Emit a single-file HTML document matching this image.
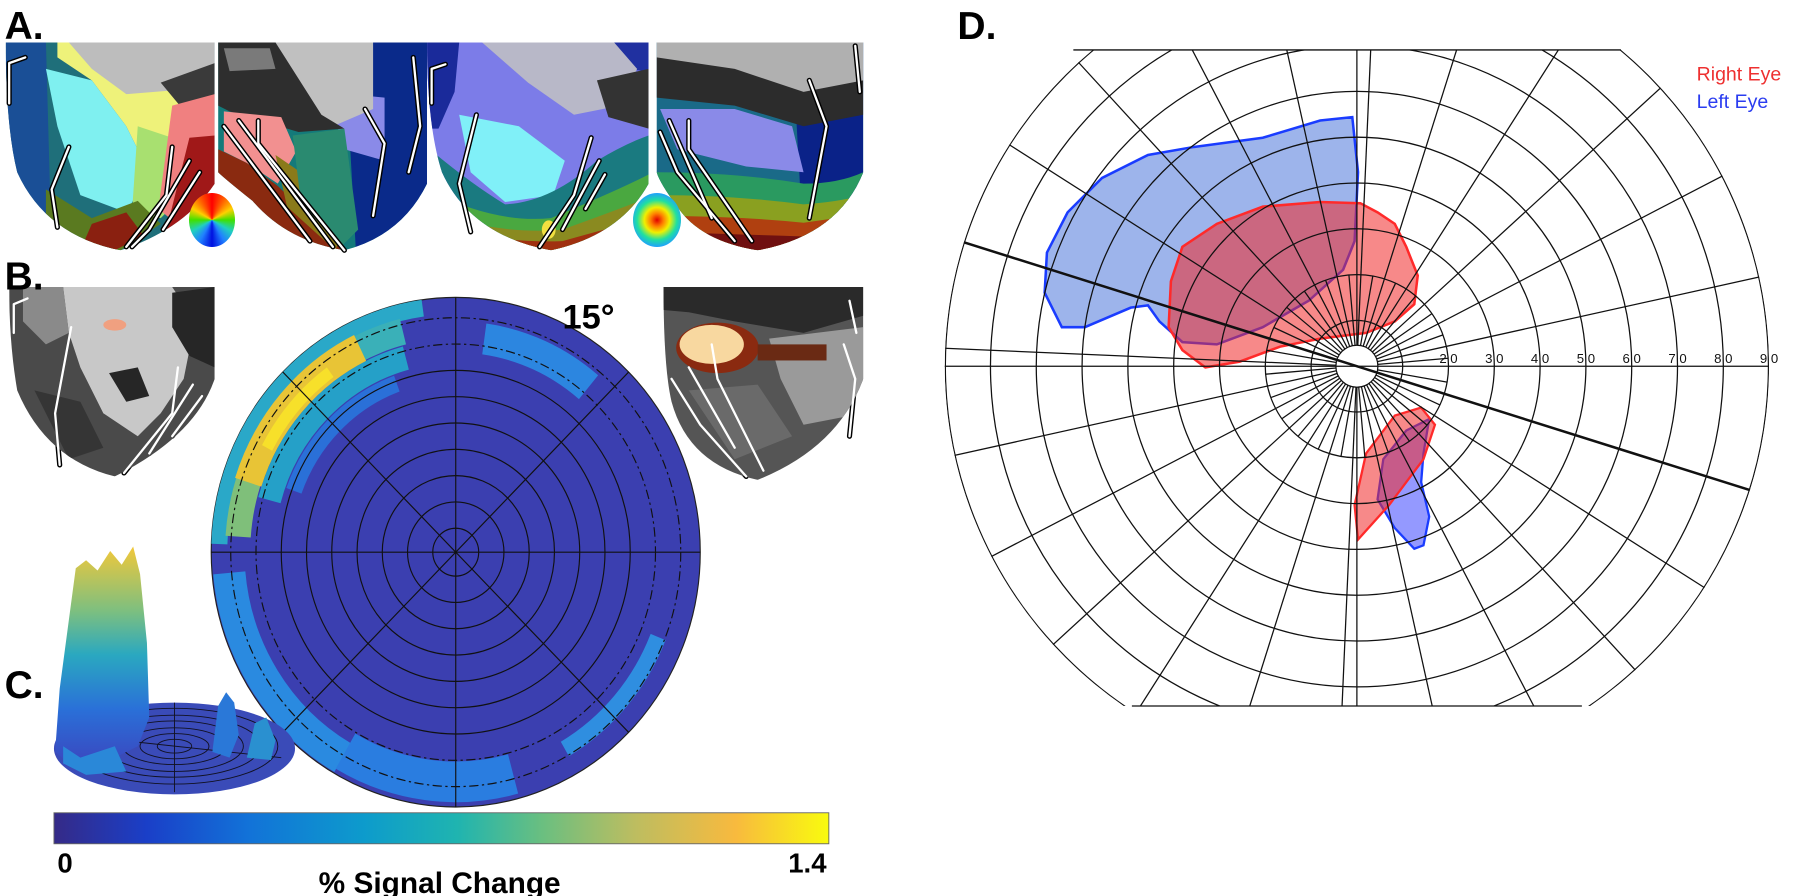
<!DOCTYPE html>
<html><head><meta charset="utf-8"><style>
html,body{margin:0;padding:0;background:#fff;}
#wrap{position:relative;width:1800px;height:896px;overflow:hidden;}
svg{position:absolute;left:0;top:0;}
.wheel{position:absolute;border-radius:50%;}
</style></head><body><div id="wrap">
<svg width="1800" height="896" viewBox="0 0 1568 780.5" preserveAspectRatio="none" font-family="Liberation Sans, sans-serif">
<defs>
<clipPath id="a1"><path d="M5,37 H187 V160 Q160,200 105,218 Q40,205 15,150 Q5,110 5,37 Z"/></clipPath>
<clipPath id="a2"><path d="M190,37 H372 V160 Q350,205 300,218 Q250,210 220,175 Q195,155 190,150 Z"/></clipPath>
<clipPath id="a3"><path d="M372,37 H565 V160 Q540,205 480,218 Q410,205 385,150 Q372,110 372,37 Z"/></clipPath>
<clipPath id="a4"><path d="M572,37 H752 V150 Q730,205 660,218 Q610,210 590,180 Q575,160 572,150 Z"/></clipPath>
<clipPath id="b1"><path d="M8,250 H187 V330 Q170,380 100,415 Q40,400 15,340 Q8,300 8,250 Z"/></clipPath>
<clipPath id="b2"><path d="M578,250 H752 V330 Q730,390 660,418 Q600,405 585,350 Q578,320 578,250 Z"/></clipPath>
<clipPath id="dclip"><rect x="800" y="43.5" width="800" height="571.5"/></clipPath>
<clipPath id="dcirc"><circle cx="1182" cy="319" r="359"/></clipPath>
<linearGradient id="cbar" x1="0" x2="1" y1="0" y2="0">
<stop offset="0" stop-color="#352a87"/><stop offset="0.12" stop-color="#1a3fc8"/><stop offset="0.25" stop-color="#1272d8"/>
<stop offset="0.4" stop-color="#0d9bcc"/><stop offset="0.52" stop-color="#1fb4b0"/><stop offset="0.63" stop-color="#6abf80"/>
<stop offset="0.75" stop-color="#bdbd60"/><stop offset="0.88" stop-color="#f8ba3e"/><stop offset="1" stop-color="#f9fb0e"/>
</linearGradient>
<linearGradient id="mtn" x1="0" x2="0" y1="0" y2="1">
<stop offset="0" stop-color="#f2c83a"/><stop offset="0.3" stop-color="#7cbf80"/><stop offset="0.5" stop-color="#2aa8c0"/>
<stop offset="0.75" stop-color="#2a70d8"/><stop offset="1" stop-color="#3a48c0"/>
</linearGradient>
</defs>

<!-- A1 -->
<g clip-path="url(#a1)">
<rect x="0" y="30" width="200" height="200" fill="#1f6f7a"/>
<polygon points="5,37 40,37 45,218 5,218" fill="#1a4f96"/>
<polygon points="50,37 170,37 175,110 155,140 150,180 120,185 130,150 110,110 80,70 50,50" fill="#eef27a"/>
<polygon points="40,60 80,70 110,110 130,150 110,185 70,170 50,110" fill="#7ff0f0"/>
<polygon points="120,110 150,120 160,170 140,190 115,185" fill="#a8e070"/>
<polygon points="60,37 187,37 187,60 160,78 110,82 80,60" fill="#bdbdbd"/>
<polygon points="140,72 187,55 187,102 160,96" fill="#3a3a3a"/>
<polygon points="150,92 187,82 187,160 160,200 138,182" fill="#f08080"/>
<polygon points="165,120 187,118 187,170 150,212 145,200" fill="#a01818"/>
<polygon points="40,165 80,190 120,175 140,195 105,218 40,218" fill="#5a7a20"/>
<polygon points="80,195 110,185 125,205 100,218 70,218" fill="#8a2010"/>
</g>
<!-- A2 -->
<g clip-path="url(#a2)">
<rect x="185" y="30" width="200" height="200" fill="#147a7a"/>
<polygon points="300,37 372,37 372,218 310,218" fill="#0a2a8a"/>
<polygon points="285,80 335,85 335,140 300,130" fill="#8a8ae8"/>
<polygon points="240,37 325,37 325,95 290,110 260,90" fill="#c0c0c0"/>
<polygon points="190,37 240,37 280,100 300,112 260,115 200,97 190,92" fill="#2e2e2e"/>
<polygon points="195,42 235,42 240,60 200,62" fill="#7a7a7a"/>
<polygon points="195,97 245,102 258,132 242,160 215,142 195,132" fill="#f29090"/>
<polygon points="190,130 215,142 242,162 300,218 250,218 200,172 190,162" fill="#8a2a10"/>
<polygon points="240,135 262,150 300,200 292,218 250,180" fill="#8a7a1a"/>
<polygon points="255,118 300,112 312,200 296,216 262,175" fill="#2a8a70"/>
</g>
<!-- A3 -->
<g clip-path="url(#a3)">
<rect x="365" y="30" width="210" height="200" fill="#7c7ce8"/>
<polygon points="372,37 400,37 396,80 382,112 372,112" fill="#1a2a9a"/>
<polygon points="530,37 565,37 565,62 540,60" fill="#2030a0"/>
<polygon points="420,37 535,37 555,60 540,92 500,100 460,72" fill="#b8b8c8"/>
<polygon points="520,70 565,60 565,112 530,102" fill="#333"/>
<polygon points="400,100 452,110 492,140 482,170 440,176 410,150" fill="#80f0f8"/>
<path d="M372,128 Q410,160 440,178 Q480,176 520,140 Q545,125 565,118 V218 H372 Z" fill="#1a7a80"/>
<path d="M372,165 Q430,195 480,190 Q540,165 565,152 V218 H372 Z" fill="#4aa840"/>
<path d="M372,185 Q440,205 490,200 Q540,182 565,172 V218 H372 Z" fill="#8a8a20"/>
<path d="M372,198 Q440,212 490,210 Q540,196 565,190 V218 H372 Z" fill="#a03010"/>
<ellipse cx="478" cy="200" rx="6" ry="8" fill="#f2e040"/>
</g>
<!-- A4 -->
<g clip-path="url(#a4)">
<rect x="565" y="30" width="195" height="200" fill="#1a6a88"/>
<polygon points="690,37 752,37 752,218 700,218" fill="#0a2288"/>
<polygon points="572,37 752,37 752,75 700,95 640,85 600,70 572,70" fill="#b0b0b0"/>
<polygon points="572,50 640,60 700,80 752,70 752,100 700,110 640,92 572,85" fill="#2c2c2c"/>
<polygon points="575,95 640,95 690,110 700,150 650,145 590,130" fill="#8a8ae8"/>
<path d="M572,150 Q640,150 700,160 Q730,160 752,150 V218 H572 Z" fill="#2a9a60"/>
<path d="M572,170 Q640,170 700,178 Q730,176 752,170 V218 H572 Z" fill="#8aa020"/>
<path d="M572,188 Q640,188 700,194 Q730,190 752,186 V218 H572 Z" fill="#b04010"/>
<path d="M572,202 Q640,204 700,206 Q730,204 752,200 V218 H572 Z" fill="#701010"/>
</g>
<!-- white sulcal lines -->
<g fill="none" stroke-linejoin="round" stroke-linecap="round">
<g stroke="#000" stroke-width="4.5">
<polyline points="8,90 8,55 22,50"/><polyline points="60,128 45,165 50,198"/><polyline points="150,128 145,170 110,215"/><polyline points="165,140 130,200 115,215"/><polyline points="174,150 142,200"/>
<polyline points="195,110 270,210"/><polyline points="208,105 290,215"/><polyline points="225,105 225,125 300,218"/><polyline points="318,95 335,125 325,188"/><polyline points="360,50 366,110 356,150"/>
<polyline points="376,90 376,60 388,56"/><polyline points="415,100 400,160 410,202"/><polyline points="515,120 500,170 470,215"/><polyline points="522,140 490,200"/><polyline points="527,152 510,182"/>
<polyline points="575,115 590,150 640,210"/><polyline points="583,105 620,190"/><polyline points="600,105 600,130 655,210"/><polyline points="705,70 720,110 705,190"/><polyline points="745,40 749,80"/>
<polyline points="12,290 12,265 24,260"/><polyline points="62,285 48,360 52,405"/><polyline points="155,320 150,360 108,412"/><polyline points="168,335 130,395"/><polyline points="176,345 150,380"/>
<polyline points="585,330 610,370 650,415"/><polyline points="600,320 640,390"/><polyline points="620,300 625,330 665,410"/><polyline points="740,262 746,290"/><polyline points="735,300 745,330 740,380"/>
</g>
<g stroke="#fff" stroke-width="2">
<polyline points="8,90 8,55 22,50"/><polyline points="60,128 45,165 50,198"/><polyline points="150,128 145,170 110,215"/><polyline points="165,140 130,200 115,215"/><polyline points="174,150 142,200"/>
<polyline points="195,110 270,210"/><polyline points="208,105 290,215"/><polyline points="225,105 225,125 300,218"/><polyline points="318,95 335,125 325,188"/><polyline points="360,50 366,110 356,150"/>
<polyline points="376,90 376,60 388,56"/><polyline points="415,100 400,160 410,202"/><polyline points="515,120 500,170 470,215"/><polyline points="522,140 490,200"/><polyline points="527,152 510,182"/>
<polyline points="575,115 590,150 640,210"/><polyline points="583,105 620,190"/><polyline points="600,105 600,130 655,210"/><polyline points="705,70 720,110 705,190"/><polyline points="745,40 749,80"/>
</g>
</g>

<!-- B1 -->
<g clip-path="url(#b1)">
<rect x="0" y="245" width="200" height="180" fill="#4a4a4a"/>
<polygon points="55,250 150,250 170,280 160,330 140,360 120,380 90,360 70,320 60,290" fill="#c8c8c8"/>
<polygon points="20,250 55,250 60,290 40,300 20,280" fill="#8a8a8a"/>
<polygon points="150,255 187,250 187,320 165,310 150,285" fill="#262626"/>
<polygon points="95,325 120,320 130,345 110,350" fill="#262626"/>
<polygon points="30,340 70,350 90,390 60,400" fill="#353535"/>
<ellipse cx="100" cy="283" rx="10" ry="5" fill="#f0a080"/>
</g>
<g fill="none" stroke-linejoin="round" stroke-linecap="round">
<g stroke="#fff" stroke-width="2"><polyline points="12,290 12,265 24,260"/><polyline points="62,285 48,360 52,405"/><polyline points="155,320 150,360 108,412"/><polyline points="168,335 130,395"/><polyline points="176,345 150,380"/></g>
</g>
<!-- B2 -->
<g clip-path="url(#b2)">
<rect x="570" y="245" width="190" height="180" fill="#555"/>
<polygon points="578,250 752,250 752,275 700,290 640,280 600,272 578,270" fill="#2a2a2a"/>
<polygon points="670,295 752,285 752,360 700,370 680,330" fill="#9a9a9a"/>
<polygon points="600,340 660,335 690,380 640,400" fill="#6a6a6a"/>
<ellipse cx="625" cy="303" rx="36" ry="22" fill="#8a2a10"/>
<ellipse cx="620" cy="300" rx="28" ry="17" fill="#f8d8a0"/>
<rect x="660" y="300" width="60" height="14" fill="#6a2a14"/>
</g>
<g fill="none" stroke-linejoin="round" stroke-linecap="round" stroke="#fff" stroke-width="2">
<polyline points="585,330 610,370 650,415"/><polyline points="600,320 640,390"/><polyline points="620,300 625,330 665,410"/><polyline points="740,262 746,290"/><polyline points="735,300 745,330 740,380"/>
</g>

<!-- Labels -->
<text x="4" y="34" font-size="34" font-weight="bold">A.</text>
<text x="4" y="252" font-size="34" font-weight="bold">B.</text>
<text x="4" y="608" font-size="34" font-weight="bold">C.</text>
<text x="834" y="34" font-size="34" font-weight="bold">D.</text>

<!-- C disc -->
<g transform="translate(397,481) scale(1,1.042)">
<circle r="213" fill="#3b3fb0" stroke="#222" stroke-width="1"/>
<g fill="none">
<circle r="206" pathLength="360" stroke="#2aa8c8" stroke-width="14" transform="rotate(-178)" stroke-dasharray="80 280"/>
<circle r="168" pathLength="360" stroke="#25a0c8" stroke-width="20" transform="rotate(-165)" stroke-dasharray="60 300"/>
<circle r="150" pathLength="360" stroke="#2a70d8" stroke-width="14" transform="rotate(-160)" stroke-dasharray="50 310"/>
<circle r="190" pathLength="360" stroke="#7fbf7a" stroke-width="22" transform="rotate(-176)" stroke-dasharray="16 344"/>
<circle r="190" pathLength="360" stroke="#3ab0b8" stroke-width="22" transform="rotate(-118)" stroke-dasharray="14 346"/>
<circle r="190" pathLength="360" stroke="#e8c436" stroke-width="24" transform="rotate(-162)" stroke-dasharray="46 314"/>
<circle r="186" pathLength="360" stroke="#f7e02a" stroke-width="10" transform="rotate(-152)" stroke-dasharray="26 334"/>
<circle r="180" pathLength="360" stroke="#2c86e0" stroke-width="26" transform="rotate(-82)" stroke-dasharray="32 328"/>
<circle r="198" pathLength="360" stroke="#2a8ae0" stroke-width="28" transform="rotate(120)" stroke-dasharray="55 305"/>
<circle r="192" pathLength="360" stroke="#2a7de0" stroke-width="34" transform="rotate(75)" stroke-dasharray="45 315"/>
<circle r="190" pathLength="360" stroke="#2f8ee0" stroke-width="14" transform="rotate(22)" stroke-dasharray="38 322"/>
</g>
<g fill="none" stroke="#111" stroke-width="1">
<circle r="20"/><circle r="42"/><circle r="64"/><circle r="86"/><circle r="108"/><circle r="130"/><circle r="152"/>
<circle r="174" stroke-dasharray="8 3 2 3"/><circle r="196" stroke-dasharray="8 3 2 3"/>
<line x1="-213" y1="0" x2="213" y2="0"/><line x1="0" y1="-213" x2="0" y2="213"/>
<line x1="-150.6" y1="-150.6" x2="150.6" y2="150.6"/><line x1="-150.6" y1="150.6" x2="150.6" y2="-150.6"/>
</g>
</g>
<text x="490" y="286" font-size="30" font-weight="bold">15°</text>

<!-- 3D surface -->
<ellipse cx="152" cy="652" rx="105" ry="40" fill="#3a4bb8"/>
<g fill="none" stroke="#112" stroke-width="0.8">
<ellipse cx="152" cy="650" rx="90" ry="33"/><ellipse cx="152" cy="650" rx="75" ry="27"/><ellipse cx="152" cy="650" rx="60" ry="22"/><ellipse cx="152" cy="650" rx="45" ry="16"/><ellipse cx="152" cy="650" rx="30" ry="11"/><ellipse cx="152" cy="650" rx="15" ry="6"/>
<line x1="60" y1="640" x2="245" y2="660"/><line x1="152" y1="612" x2="152" y2="690"/>
</g>
<polygon points="48,655 52,600 60,540 66,495 75,488 85,497 96,480 106,492 116,476 122,500 128,560 130,625 120,650 90,665 60,665" fill="url(#mtn)"/>
<polygon points="185,655 190,615 197,603 204,612 208,640 200,660" fill="#2a78d8"/>
<polygon points="215,660 222,630 232,625 240,645 236,662" fill="#2a90d0"/>
<polygon points="55,650 70,660 100,650 110,672 75,675 55,665" fill="#2a88d8"/>

<!-- colorbar -->
<rect x="47" y="708" width="675" height="27" fill="url(#cbar)" stroke="#666" stroke-width="0.8"/>
<text x="50" y="760" font-size="24" font-weight="bold">0</text>
<text x="720" y="760" font-size="24" font-weight="bold" text-anchor="end">1.4</text>
<text x="383" y="778" font-size="26" font-weight="bold" text-anchor="middle">% Signal Change</text>

<!-- D panel -->
<g clip-path="url(#dclip)">
<g clip-path="url(#dcirc)">
<path d="M1178,102 L1150,105 L1100,120 L1040,128 L1000,135 L960,155 L930,185 L912,220 L910,255 L925,285 L945,285 L985,268 L1000,266 L1010,280 L1030,298 L1060,300 L1100,285 L1140,262 L1170,235 L1180,210 L1183,150 Z" fill="rgba(60,105,215,0.5)" stroke="#1a3cff" stroke-width="2.2"/>
<path d="M1020,245 L1030,215 L1060,195 L1100,180 L1150,176 L1185,177 L1200,185 L1215,195 L1225,215 L1235,240 L1232,265 L1215,280 L1190,290 L1150,295 L1115,302 L1080,315 L1050,320 L1030,305 L1018,285 Z" fill="rgba(240,40,40,0.55)" stroke="#ff2a2a" stroke-width="2.2"/>
<path d="M1205,400 L1225,375 L1245,365 L1240,395 L1238,420 L1245,450 L1240,475 L1232,478 L1215,460 L1200,435 Z" fill="rgba(60,70,255,0.55)" stroke="#1a3cff" stroke-width="2"/>
<path d="M1183,470 L1180,440 L1190,395 L1215,362 L1238,355 L1250,370 L1240,400 L1210,440 Z" fill="rgba(240,40,40,0.55)" stroke="#ff2a2a" stroke-width="2"/>
<g fill="none" stroke="#111" stroke-width="1.1" transform="translate(1182,319)">
<circle r="18.3" fill="#fff"/>
<circle r="39.9"/><circle r="79.8"/><circle r="119.7"/><circle r="159.6"/><circle r="199.5"/><circle r="239.4"/><circle r="279.3"/><circle r="319.2"/><circle r="358.5"/>
<line x1="-360" y1="0" x2="360" y2="0"/><line x1="0" y1="-360" x2="0" y2="-18.3"/><line x1="0" y1="18.3" x2="0" y2="360"/>
<g>
<line x1="18.3" y1="0" x2="360" y2="0" transform="rotate(-12.5)"/><line x1="18.3" y1="0" x2="360" y2="0" transform="rotate(-27.5)"/><line x1="18.3" y1="0" x2="360" y2="0" transform="rotate(-42.5)"/><line x1="18.3" y1="0" x2="360" y2="0" transform="rotate(-57.5)"/><line x1="18.3" y1="0" x2="360" y2="0" transform="rotate(-72.5)"/><line x1="18.3" y1="0" x2="360" y2="0" transform="rotate(-87.5)"/>
<line x1="18.3" y1="0" x2="360" y2="0" transform="rotate(-102.5)"/><line x1="18.3" y1="0" x2="360" y2="0" transform="rotate(-117.5)"/><line x1="18.3" y1="0" x2="360" y2="0" transform="rotate(-132.5)"/><line x1="18.3" y1="0" x2="360" y2="0" transform="rotate(-147.5)"/><line x1="18.3" y1="0" x2="360" y2="0" transform="rotate(-177.5)"/>
<line x1="18.3" y1="0" x2="360" y2="0" transform="rotate(167.5)"/><line x1="18.3" y1="0" x2="360" y2="0" transform="rotate(152.5)"/><line x1="18.3" y1="0" x2="360" y2="0" transform="rotate(137.5)"/><line x1="18.3" y1="0" x2="360" y2="0" transform="rotate(122.5)"/><line x1="18.3" y1="0" x2="360" y2="0" transform="rotate(107.5)"/><line x1="18.3" y1="0" x2="360" y2="0" transform="rotate(92.5)"/>
<line x1="18.3" y1="0" x2="360" y2="0" transform="rotate(77.5)"/><line x1="18.3" y1="0" x2="360" y2="0" transform="rotate(62.5)"/><line x1="18.3" y1="0" x2="360" y2="0" transform="rotate(47.5)"/><line x1="18.3" y1="0" x2="360" y2="0" transform="rotate(32.5)"/>
</g>
<line x1="-360" y1="0" x2="360" y2="0" transform="rotate(17.5)" stroke-width="2.2"/>
<g>
<line x1="18.3" y1="0" x2="79.8" y2="0" transform="rotate(-5)"/><line x1="18.3" y1="0" x2="79.8" y2="0" transform="rotate(-20)"/><line x1="18.3" y1="0" x2="79.8" y2="0" transform="rotate(-35)"/><line x1="18.3" y1="0" x2="79.8" y2="0" transform="rotate(-50)"/><line x1="18.3" y1="0" x2="79.8" y2="0" transform="rotate(-65)"/><line x1="18.3" y1="0" x2="79.8" y2="0" transform="rotate(-80)"/>
<line x1="18.3" y1="0" x2="79.8" y2="0" transform="rotate(-95)"/><line x1="18.3" y1="0" x2="79.8" y2="0" transform="rotate(-110)"/><line x1="18.3" y1="0" x2="79.8" y2="0" transform="rotate(-125)"/><line x1="18.3" y1="0" x2="79.8" y2="0" transform="rotate(-140)"/><line x1="18.3" y1="0" x2="79.8" y2="0" transform="rotate(-155)"/><line x1="18.3" y1="0" x2="79.8" y2="0" transform="rotate(-170)"/>
<line x1="18.3" y1="0" x2="79.8" y2="0" transform="rotate(175)"/><line x1="18.3" y1="0" x2="79.8" y2="0" transform="rotate(160)"/><line x1="18.3" y1="0" x2="79.8" y2="0" transform="rotate(145)"/><line x1="18.3" y1="0" x2="79.8" y2="0" transform="rotate(130)"/><line x1="18.3" y1="0" x2="79.8" y2="0" transform="rotate(115)"/><line x1="18.3" y1="0" x2="79.8" y2="0" transform="rotate(100)"/>
<line x1="18.3" y1="0" x2="79.8" y2="0" transform="rotate(85)"/><line x1="18.3" y1="0" x2="79.8" y2="0" transform="rotate(70)"/><line x1="18.3" y1="0" x2="79.8" y2="0" transform="rotate(55)"/><line x1="18.3" y1="0" x2="79.8" y2="0" transform="rotate(40)"/><line x1="18.3" y1="0" x2="79.8" y2="0" transform="rotate(25)"/><line x1="18.3" y1="0" x2="79.8" y2="0" transform="rotate(10)"/>
</g>
</g>
</g>
</g>
<line x1="935" y1="43.5" x2="1412" y2="43.5" stroke="#111" stroke-width="1.1"/>
<line x1="986" y1="615" x2="1378" y2="615" stroke="#111" stroke-width="1.1"/>
<g font-size="11.5" fill="#111" text-anchor="middle">
<text x="1261.8" y="316">2 0</text><text x="1301.7" y="316">3 0</text><text x="1341.6" y="316">4 0</text><text x="1381.5" y="316">5 0</text><text x="1421.4" y="316">6 0</text><text x="1461.3" y="316">7 0</text><text x="1501.2" y="316">8 0</text><text x="1541.1" y="316">9 0</text>
</g>
<text x="1478" y="70" font-size="17" fill="#ee3030">Right Eye</text>
<text x="1478" y="94" font-size="17" fill="#2a3cf0">Left Eye</text>
</svg>
<div class="wheel" style="left:189px;top:193px;width:46px;height:54px;background:conic-gradient(#f00 0deg,#ff6000 30deg,#ffd000 60deg,#40e000 90deg,#20d0c0 120deg,#2080ff 150deg,#0010e0 180deg,#2080ff 210deg,#20d0c0 240deg,#40e000 270deg,#ffd000 300deg,#ff6000 330deg,#f00 360deg);"></div>
<div class="wheel" style="left:633px;top:193px;width:48px;height:54px;background:radial-gradient(circle,#e00000 0%,#ff8000 18%,#f0f000 35%,#20e0a0 55%,#20a0ff 75%,#2040e0 100%);"></div>
</div></body></html>
